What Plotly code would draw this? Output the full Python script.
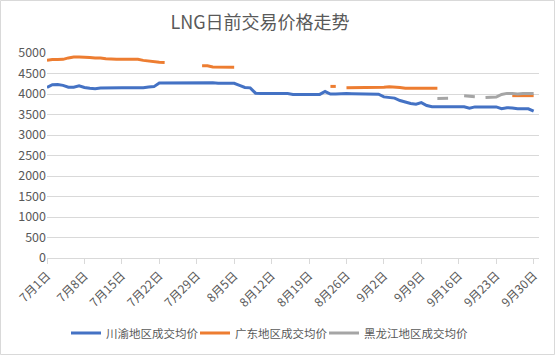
import pandas as pd
import plotly.graph_objects as go

dates = pd.date_range("2023-07-01", "2023-09-30", freq="D")

chuanyu = [
    4160, 4225, 4230, 4210, 4165, 4165, 4200, 4160, 4140, 4130,
    4145, 4150, 4150, 4150, 4150, 4150, 4150, 4150, 4150, 4170,
    4180, 4270, 4270, 4285, 4270, 4275, 4275, 4275, 4275, 4280,
    4280, 4275, 4260, 4260, 4260, 4260, 4210, 4160, 4150, 4020,
    4010, 4010, 4010, 4010, 4010, 4010, 3990, 3990, 3990, 3990,
    3990, 3990, 4060, 4000, 4000, 4010, 4010, 4005, 4000, 4000,
    4000, 3995, 3995, 3930, 3920, 3900, 3840, 3800, 3770, 3750,
    3790, 3720, 3690, 3690, 3690, 3690, 3690, 3690, 3690, 3655,
    3685, 3685, 3685, 3685, 3685, 3640, 3665, 3660, 3640, 3640,
    3640, 3585,
]

guangdong = [
    4820, 4840, 4840, 4845, 4880, 4900, 4900, 4900, 4890, 4880,
    4880, 4860, 4845, 4845, 4845, 4845, 4845, 4845, 4820, 4800,
    4780, 4775, 4770, None, None, None, None, None, None, 4690,
    4690, 4660, 4655, 4655, 4655, 4655, None, None, None, None,
    None, None, None, None, None, None, None, None, None, None,
    None, None, None, 4185, 4185, None, 4150, 4150, 4150, 4150,
    4150, 4150, 4150, 4165, 4175, 4175, 4160, 4140, 4140, 4140,
    4140, 4140, 4140, 4140, None, None, None, None, None, None,
    None, None, None, None, None, None, None, 3960, 3960, 3960,
    3960, 3960,
]

heilongjiang = [None] * 73 + [
    3890, 3890, 3895, None, None, 3960, 3955, 3935, None, 3915,
    3915, 3925, 3990, 4015, 4015, 4000, 4010, 4015, 4010,
]

series = [
    ("川渝地区成交均价", chuanyu, "#4472C4", 84),
    ("广东地区成交均价", guangdong, "#ED7D31", 84),
    ("黑龙江地区成交均价", heilongjiang, "#A5A5A5", 110),
]

FONT = "Noto Sans CJK SC"
GREY = "#595959"
L, R, T, B = 47, 16, 53, 97
PW, PH = 555 - L - R, 355 - T - B

fig = go.Figure()
for name, vals, color, lw in series:
    fig.add_trace(go.Scatter(
        x=dates, y=vals, name=name, mode="lines",
        line=dict(color=color, width=3), connectgaps=False,
        legendwidth=lw,
    ))

fig.update_layout(
    width=555, height=355,
    paper_bgcolor="white", plot_bgcolor="white",
    margin=dict(l=L, r=R, t=T, b=B, autoexpand=False),
    font=dict(family=FONT, size=12, color=GREY),
    title=dict(text="LNG日前交易价格走势", x=260 / 555, xanchor="center",
               y=1 - 23 / 355, yanchor="middle",
               font=dict(family=FONT, size=18, color=GREY)),
    showlegend=True,
    legend=dict(orientation="h", xref="container", yref="container",
                x=66 / 555, xanchor="left",
                y=1 - 333 / 355, yanchor="middle", itemwidth=30,
                font=dict(family=FONT, size=11.5, color=GREY)),
    shapes=[dict(type="rect", xref="paper", yref="paper",
                 x0=(0.5 - L) / PW, x1=(554.5 - L) / PW,
                 y0=-(B - 0.5) / PH, y1=(T - 0.5) / PH + 1,
                 line=dict(color="#D9D9D9", width=1), layer="below")],
)

fig.update_xaxes(
    type="date",
    range=["2023-07-01", "2023-10-01"],
    tick0="2023-07-01", dtick=7 * 86400000,
    tickformat="%-m月%-d日", tickangle=-45,
    showgrid=False, showline=True, linecolor="#D9D9D9", linewidth=1,
    ticks="outside", ticklen=5, tickcolor="#D9D9D9",
    tickfont=dict(family=FONT, size=12, color=GREY),
    zeroline=False, automargin=False,
)
fig.update_yaxes(
    range=[0, 5000], dtick=500, tick0=0,
    showgrid=True, gridcolor="#D9D9D9", gridwidth=1,
    showline=False, zeroline=False, ticks="",
    tickfont=dict(family=FONT, size=12.5, color=GREY),
    automargin=False,
)

fig.write_html("out.html", config={"displayModeBar": False},
               post_script="document.body.style.margin='0';document.body.style.overflow='hidden';")
